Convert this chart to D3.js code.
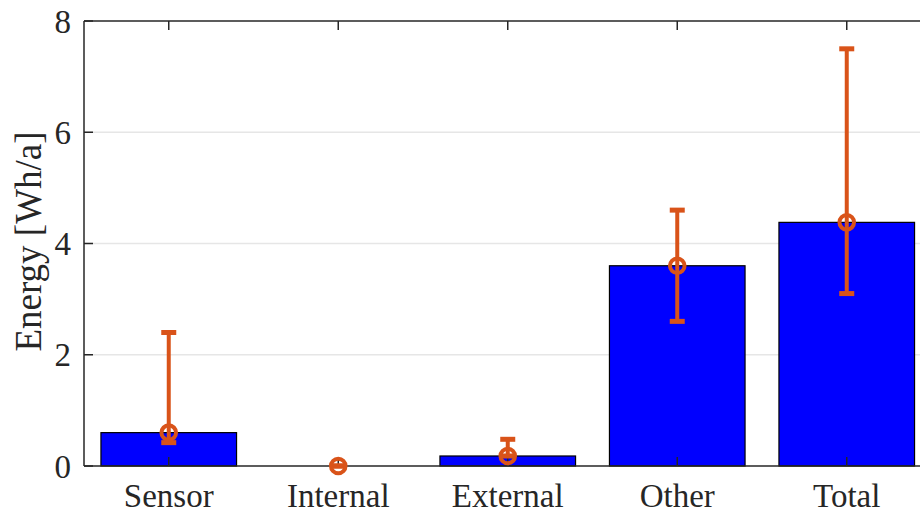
<!DOCTYPE html>
<html>
<head>
<meta charset="utf-8">
<script src="https://cdn.jsdelivr.net/npm/d3@7"></script>
<style>
  body { margin: 0; background: #fff; }
</style>
</head>
<body>
<div class="chart"></div>
<script>
// data
var categories = ["Sensor", "Internal", "External", "Other", "Total"];
var energy = [0.6, 0.0, 0.18, 3.6, 4.38];
var errLow = [0.42, 0.0, 0.18, 2.6, 3.1];
var errHigh = [2.4, 0.0, 0.48, 4.6, 7.5];
var yTicks = [0, 2, 4, 6, 8];

var outerWidth = 920,
	outerHeight = 513,
	margin = {top: 21, left: 84, bottom: 47},
	height = outerHeight - margin.top - margin.bottom,
	step = 169.5,
	orange = "#D95319",
	serif = "Liberation Serif";

var svg = d3.select(".chart").append("svg")
	.attr("width", outerWidth)
	.attr("height", outerHeight);

var x = d3.scaleLinear()
	.domain([0.5, 5.5])
	.range([margin.left, margin.left + 5 * step]);

var y = d3.scaleLinear()
	.domain([0, 8])
	.range([margin.top + height, margin.top]);

var x0 = x(0.5), x1 = x(5.5);

// grid
svg.append("g")
	.selectAll("line")
	.data(yTicks.slice(1, -1))
	.join("line")
	.attr("x1", x0).attr("x2", x1)
	.attr("y1", function(d){ return y(d); })
	.attr("y2", function(d){ return y(d); })
	.attr("stroke", "#e6e6e6")
	.attr("stroke-width", 1.5);

// bars
svg.append("g")
	.selectAll("rect")
	.data(energy)
	.join("rect")
	.attr("x", function(d, i){ return x(i + 1) - 0.4 * step; })
	.attr("width", 0.8 * step)
	.attr("y", function(d){ return y(d); })
	.attr("height", function(d){ return y(0) - y(d); })
	.attr("fill", "#0000ff")
	.attr("stroke", "#000")
	.attr("stroke-width", 1.2);

// axes box (top, left, bottom)
var axisCol = "#262626";
svg.append("line").attr("x1", x0).attr("x2", x1).attr("y1", y(0)).attr("y2", y(0))
	.attr("stroke", axisCol).attr("stroke-width", 1.5);
svg.append("line").attr("x1", x0).attr("x2", x1).attr("y1", y(8)).attr("y2", y(8))
	.attr("stroke", axisCol).attr("stroke-width", 1.5);
svg.append("line").attr("x1", x0).attr("x2", x0).attr("y1", y(0)).attr("y2", y(8))
	.attr("stroke", axisCol).attr("stroke-width", 1.5);

// x ticks inward, bottom and top
var xt = svg.append("g");
categories.forEach(function(c, i){
	var cx = x(i + 1);
	xt.append("line").attr("x1", cx).attr("x2", cx).attr("y1", y(0)).attr("y2", y(0) - 9)
		.attr("stroke", axisCol).attr("stroke-width", 1.5);
	xt.append("line").attr("x1", cx).attr("x2", cx).attr("y1", y(8)).attr("y2", y(8) + 9)
		.attr("stroke", axisCol).attr("stroke-width", 1.5);
	xt.append("text")
		.attr("x", cx)
		.attr("y", 507)
		.attr("text-anchor", "middle")
		.attr("fill", axisCol)
		.style("font-family", serif)
		.style("font-size", "33px")
		.text(c);
});

// y ticks
var yt = svg.append("g");
yTicks.forEach(function(t){
	yt.append("line").attr("x1", x0).attr("x2", x0 + 9).attr("y1", y(t)).attr("y2", y(t))
		.attr("stroke", axisCol).attr("stroke-width", 1.5);
	yt.append("text")
		.attr("x", 71)
		.attr("y", y(t))
		.attr("dy", "0.35em")
		.attr("text-anchor", "end")
		.attr("fill", axisCol)
		.style("font-family", serif)
		.style("font-size", "33px")
		.text(t);
});

// y label
svg.append("text")
	.attr("transform", "translate(41," + (margin.top + height / 2 - 2) + ") rotate(-90)")
	.attr("text-anchor", "middle")
	.attr("fill", axisCol)
	.style("font-family", serif)
	.style("font-size", "37px")
	.text("Energy [Wh/a]");

// error bars
var eb = svg.append("g").attr("stroke", orange).attr("stroke-width", 4).attr("fill", "none");
energy.forEach(function(v, i){
	var cx = x(i + 1);
	eb.append("line").attr("x1", cx).attr("x2", cx)
		.attr("y1", y(errLow[i])).attr("y2", y(errHigh[i]));
	[errLow[i], errHigh[i]].forEach(function(e){
		eb.append("line").attr("x1", cx - 7.5).attr("x2", cx + 7.5)
			.attr("y1", y(e)).attr("y2", y(e))
			.attr("stroke-width", 5);
	});
	eb.append("circle").attr("cx", cx).attr("cy", y(v)).attr("r", 7.3)
		.attr("stroke-width", 4);
});
</script>
</body>
</html>
